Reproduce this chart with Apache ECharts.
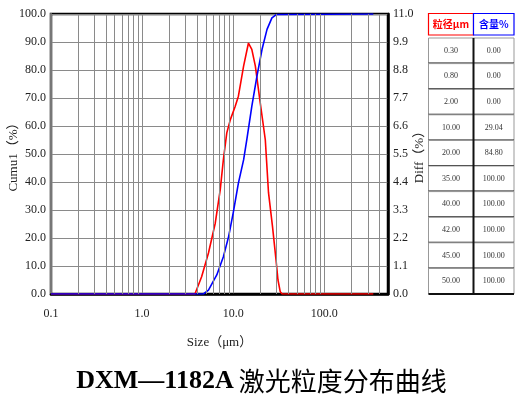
<!DOCTYPE html>
<html>
<head>
<meta charset="utf-8">
<script src="https://cdn.jsdelivr.net/npm/echarts@6/dist/echarts.min.js"></script>
<style>
	html, body { margin: 0; padding: 0; background: #fff; }
	#myChart { width: 523px; height: 397px; }
</style>
</head>
<body>
<div id="myChart"></div>
<script>
	// 微分分布 Diff(%)，右轴
	var diffSize = [0.1, 3.8, 4.5, 5.35, 6.35, 7.2, 7.8, 8.5, 9.3, 10.5, 11.4, 13.0, 14.7, 16.0, 17.5, 19.8, 22.5, 24.4, 27.0, 29.5, 31.0, 32.8, 34.5, 345];
	var diffValue = [0, 0, 0.68, 1.61, 2.78, 4.09, 5.28, 6.33, 6.85, 7.37, 7.77, 8.95, 9.86, 9.61, 8.95, 7.51, 6.06, 3.98, 2.65, 1.34, 0.55, 0.09, 0, 0];

	// 累计分布 Cumu(%)，左轴
	var cumSize = [0.1, 4.7, 5.35, 6.6, 7.8, 8.9, 10.0, 11.4, 13.0, 14.1, 16.0, 18.2, 20.7, 23.5, 26.6, 29.7, 31.0, 345];
	var cumValue = [0, 0, 1.4, 6.8, 13.3, 20.5, 29.0, 39.6, 47.9, 55.1, 67.0, 77.7, 87.3, 94.5, 98.6, 99.8, 100, 100];

	// 对数坐标的次网格线
	var decades = [0.1, 1, 10, 100];
	var minorSteps = [2, 3, 4, 5, 6, 7, 8, 9];

	// 右侧表格
	var tableSize = ['0.30', '0.80', '2.00', '10.00', '20.00', '35.00', '40.00', '42.00', '45.00', '50.00'];
	var tableContent = ['0.00', '0.00', '0.00', '29.04', '84.80', '100.00', '100.00', '100.00', '100.00', '100.00'];

	var labelFont = {
		color: '#222',
		fontFamily: '"Liberation Serif", "Noto Sans CJK SC"',
		fontSize: 12
	};
	var nameFont = {
		color: '#222',
		fontFamily: '"Liberation Serif", "Noto Sans CJK SC"',
		fontSize: 13
	};

	function pairs(xs, ys) {
		return xs.map(function(x, i) { return [x, ys[i]]; });
	}

	var minorLines = [];
	decades.forEach(function(d) {
		minorSteps.forEach(function(k) {
			if (d * k < 500) minorLines.push({ xAxis: d * k });
		});
	});

	// 表格 graphic
	var colX = [428.5, 473.5, 514];
	var headTop = 13.5, headH = 21.5;
	var rowTop = 38, rowH = 25.6;
	var tableEls = [];
	tableEls.push({
		type: 'rect', shape: { x: colX[0], y: headTop, width: colX[1] - colX[0], height: headH },
		style: { fill: '#fff', stroke: '#ff0000', lineWidth: 1.2 }
	});
	tableEls.push({
		type: 'rect', shape: { x: colX[1], y: headTop, width: colX[2] - colX[1], height: headH },
		style: { fill: '#fff', stroke: '#0000ff', lineWidth: 1.2 }
	});
	tableEls.push({
		type: 'text',
		style: { text: '粒径μm', x: (colX[0] + colX[1]) / 2, y: headTop + headH / 2, align: 'center', verticalAlign: 'middle',
			fill: '#ff0000', font: 'bold 10px "Noto Sans CJK SC"' }
	});
	tableEls.push({
		type: 'text',
		style: { text: '含量%', x: (colX[1] + colX[2]) / 2, y: headTop + headH / 2, align: 'center', verticalAlign: 'middle',
			fill: '#0000ff', font: 'bold 10px "Noto Sans CJK SC"' }
	});
	tableSize.forEach(function(s, i) {
		var y = rowTop + i * rowH;
		tableEls.push({
			type: 'rect', shape: { x: colX[0], y: y, width: colX[2] - colX[0], height: rowH },
			style: { fill: '#fff', stroke: '#999', lineWidth: 1 }
		});
		tableEls.push({
			type: 'line', shape: { x1: colX[0], y1: y + rowH, x2: colX[2], y2: y + rowH },
			style: { stroke: '#111', lineWidth: 2 }
		});
		tableEls.push({
			type: 'text',
			style: { text: s, x: (colX[0] + colX[1]) / 2, y: y + rowH / 2, align: 'center', verticalAlign: 'middle',
				fill: '#333', font: '8px "Liberation Serif"' }
		});
		tableEls.push({
			type: 'text',
			style: { text: tableContent[i], x: (colX[1] + colX[2]) / 2, y: y + rowH / 2, align: 'center', verticalAlign: 'middle',
				fill: '#333', font: '8px "Liberation Serif"' }
		});
	});
	tableEls.push({
		type: 'line', shape: { x1: colX[1], y1: rowTop, x2: colX[1], y2: rowTop + tableSize.length * rowH },
		style: { stroke: '#111', lineWidth: 2 }
	});

	var myChart = echarts.init(document.getElementById('myChart'));

	var option = {
		animation: false,
		title: {
			text: '{a|DXM—1182A} {b|激光粒度分布曲线}',
			left: 'center',
			top: 363,
			textStyle: {
				rich: {
					a: { fontFamily: '"Liberation Serif"', fontWeight: 'bold', fontSize: 26, color: '#000' },
					b: { fontFamily: '"Noto Sans CJK SC"', fontWeight: 'normal', fontSize: 26, color: '#000' }
				}
			}
		},
		grid: {
			left: 51,
			right: 135,
			top: 14,
			bottom: 103,
			show: true,
			borderColor: '#000',
			borderWidth: 2.5,
			outerBoundsMode: 'none'
		},
		xAxis: {
			type: 'log',
			logBase: 10,
			min: 0.1,
			max: 500,
			name: 'Size（μm）',
			nameLocation: 'middle',
			nameGap: 42,
			nameMoveOverlap: false,
			nameTextStyle: nameFont,
			axisLine: { lineStyle: { color: '#000', width: 2.5 } },
			axisTick: { show: false },
			axisLabel: Object.assign({
				margin: 14,
				showMaxLabel: false,
				formatter: function(v) { return (+v).toFixed(1); }
			}, labelFont),
			splitLine: { show: true, lineStyle: { color: '#8a8a8a', width: 1 } }
		},
		yAxis: [{
			type: 'value',
			min: 0,
			max: 100,
			interval: 10,
			name: 'Cumu1（%）',
			nameLocation: 'middle',
			nameGap: 31,
			nameMoveOverlap: false,
			nameTextStyle: nameFont,
			axisLine: { show: true, lineStyle: { color: '#777', width: 2 } },
			axisTick: { show: false },
			axisLabel: Object.assign({
				margin: 5,
				formatter: function(v) { return v.toFixed(1); }
			}, labelFont),
			splitLine: { show: true, lineStyle: { color: '#8a8a8a', width: 1 } }
		}, {
			type: 'value',
			min: 0,
			max: 11,
			interval: 1.1,
			position: 'right',
			name: 'Diff（%）',
			nameLocation: 'middle',
			nameGap: 25,
			nameMoveOverlap: false,
			nameTextStyle: nameFont,
			axisLine: { show: true, lineStyle: { color: '#000', width: 2.5 } },
			axisTick: { show: false },
			axisLabel: Object.assign({
				margin: 5,
				formatter: function(v) { return v.toFixed(1); }
			}, labelFont),
			splitLine: { show: false }
		}],
		graphic: tableEls,
		series: [{
			// 次网格线
			type: 'line',
			silent: true,
			z: 1,
			data: [[0.1, 0]],
			showSymbol: false,
			lineStyle: { opacity: 0 },
			markLine: {
				silent: true,
				symbol: 'none',
				label: { show: false },
				lineStyle: { color: '#8a8a8a', width: 1, type: 'solid' },
				data: minorLines
			}
		}, {
			name: 'Diff',
			type: 'line',
			yAxisIndex: 1,
			z: 3,
			showSymbol: false,
			data: pairs(diffSize, diffValue),
			lineStyle: { color: '#ff0000', width: 1.6 }
		}, {
			name: 'Cumu',
			type: 'line',
			yAxisIndex: 0,
			z: 4,
			showSymbol: false,
			data: pairs(cumSize, cumValue),
			lineStyle: { color: '#0000ff', width: 1.6 }
		}]
	};

	myChart.setOption(option);
</script>
</body>
</html>
